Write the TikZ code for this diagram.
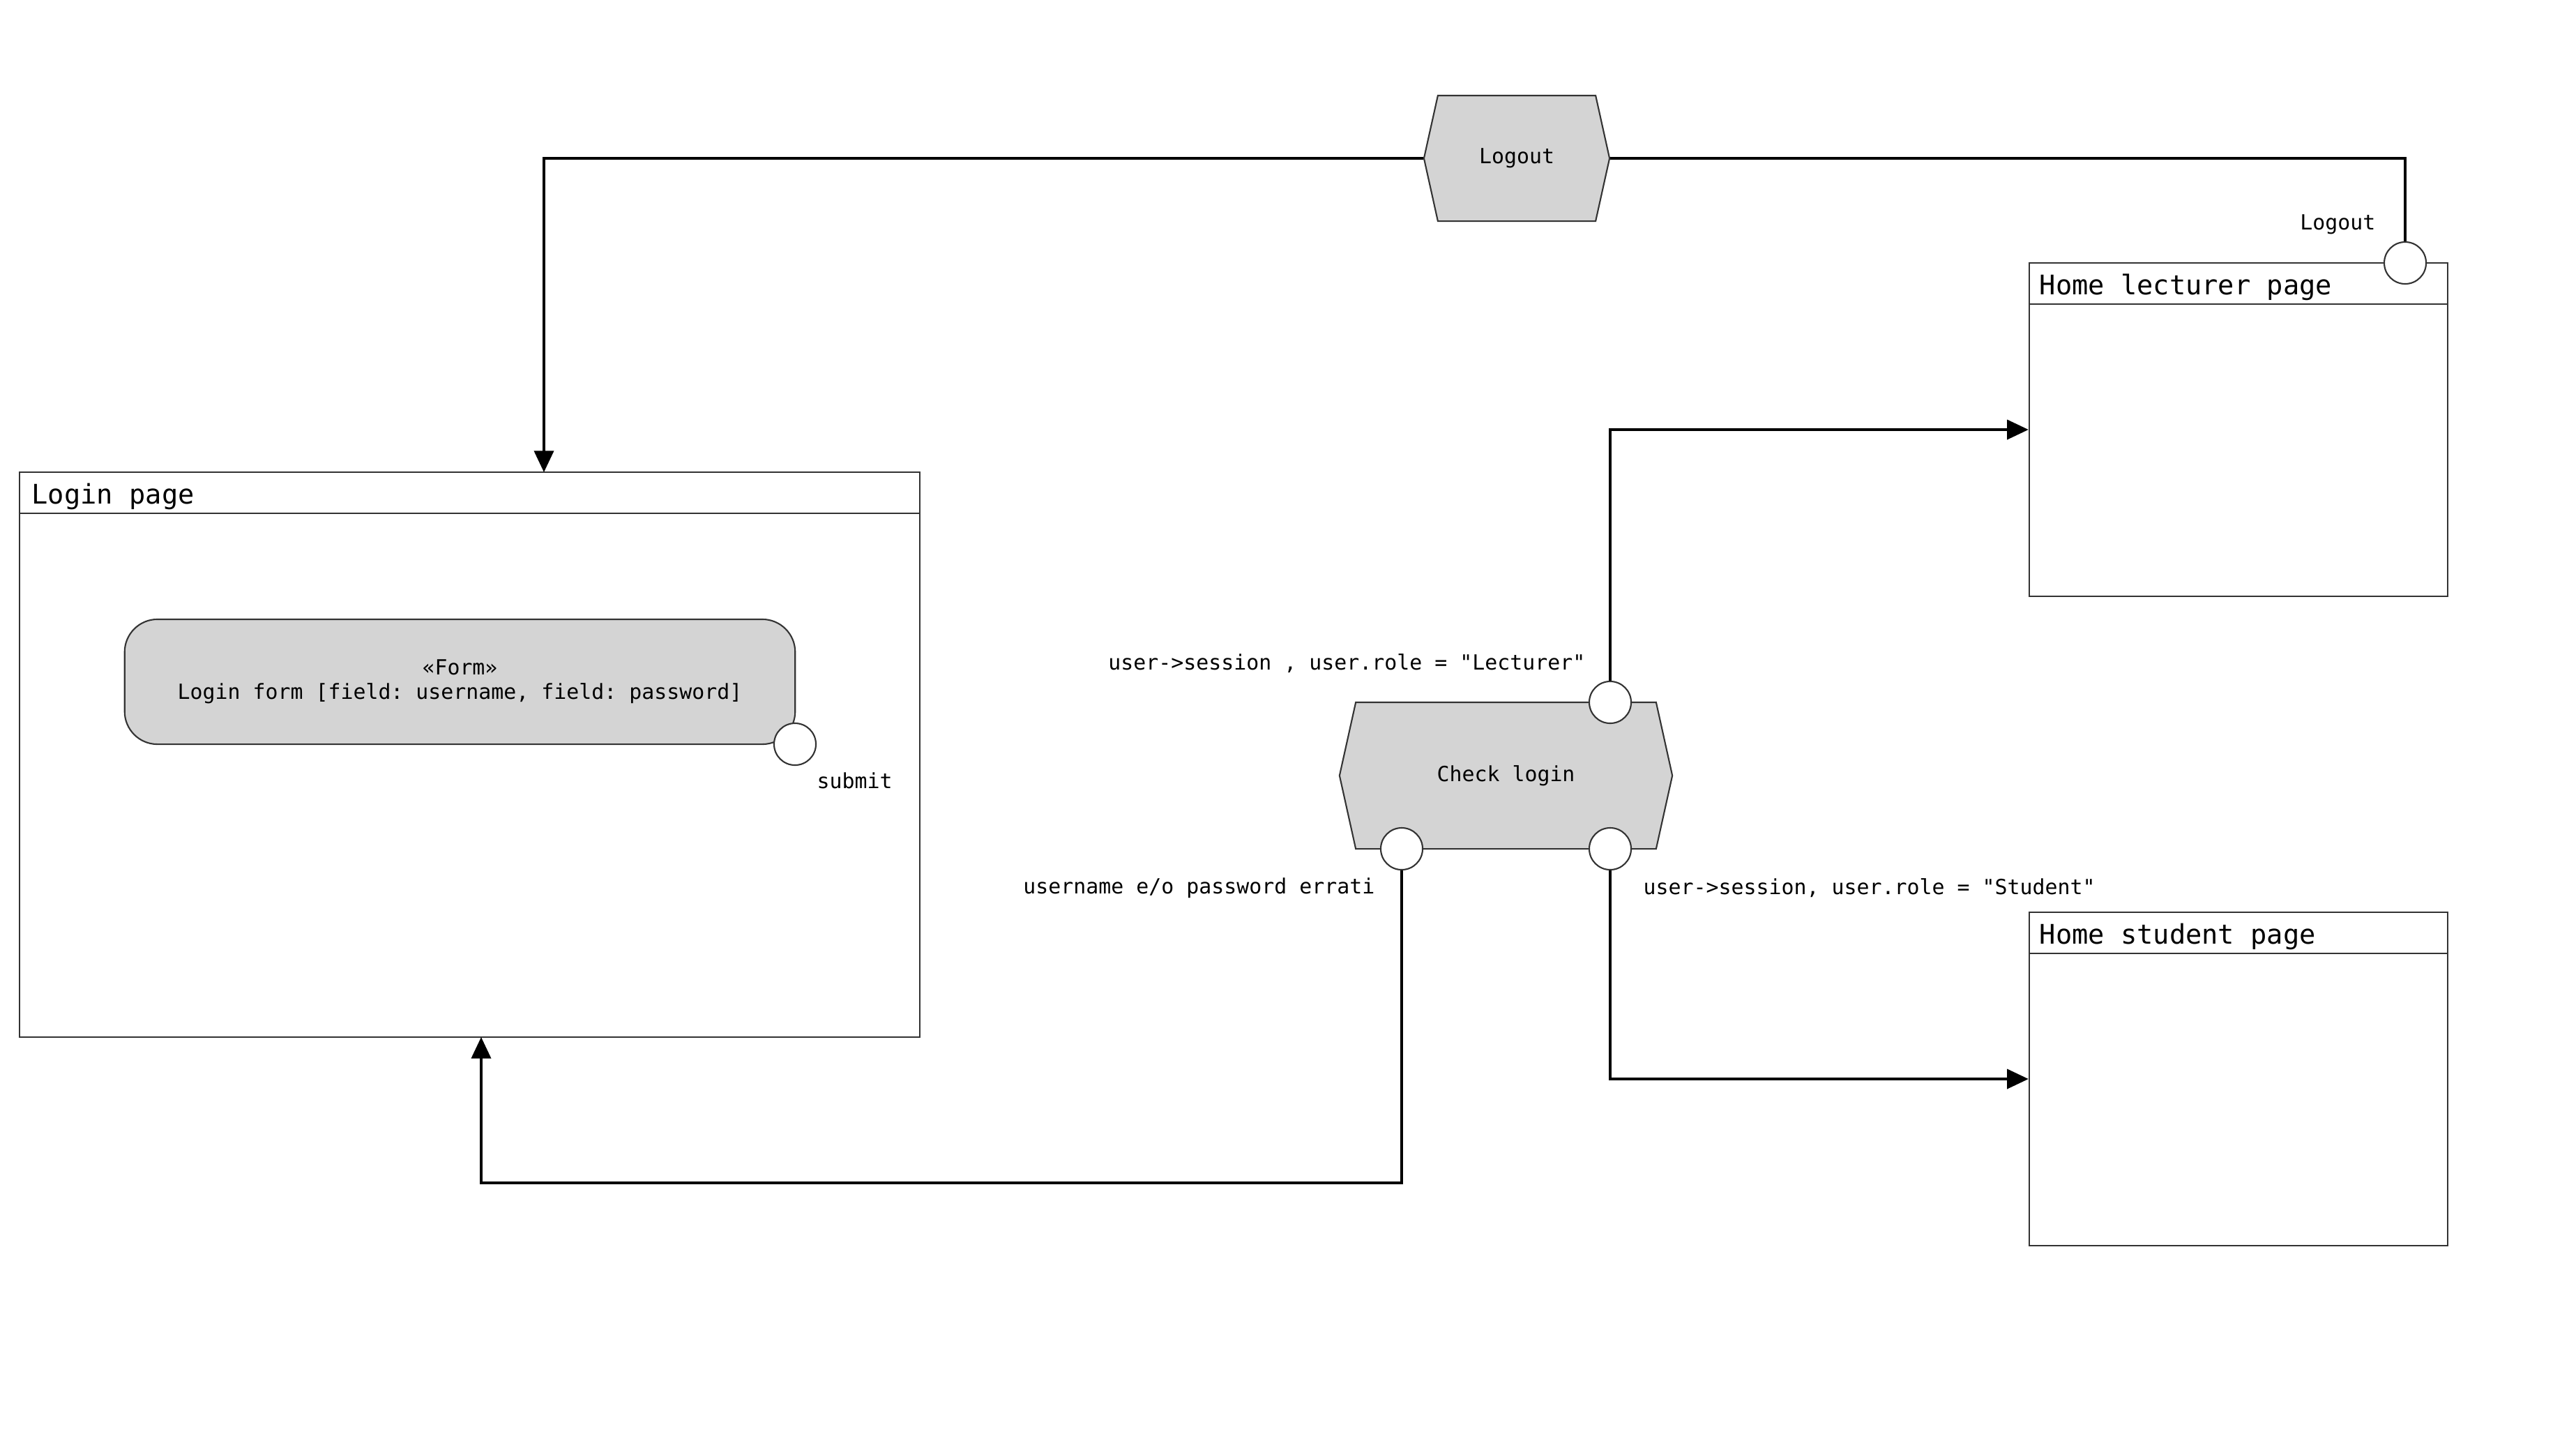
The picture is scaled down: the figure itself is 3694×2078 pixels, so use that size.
\documentclass[tikz,border=0pt]{standalone}
\usepackage{fontspec}
\setmonofont{DejaVu Sans Mono}
\usetikzlibrary{arrows.meta,shapes.symbols}
\begin{document}
\begin{tikzpicture}[x=0.01cm,y=-0.01cm]
			\tikzstyle{Page} = [rectangle, draw=black!80, line width=0.6pt, inner sep=0pt]
			\tikzstyle{Title} = [anchor=west, inner sep=0pt, font=\ttfamily\fontsize{11}{13}\selectfont]
			\tikzstyle{Action} = [signal, signal to=west and east, signal pointer angle=155, draw=black!80, fill=black!17, line width=0.6pt, inner sep=0pt, font=\ttfamily\fontsize{8.5}{10}\selectfont]
			\tikzstyle{Port} = [circle, draw=black!80, fill=white, line width=0.6pt, minimum size=0.6cm, inner sep=0pt]
			\tikzstyle{Label} = [inner sep=0pt, font=\ttfamily\fontsize{8.5}{10}\selectfont]
			\tikzstyle{Flow} = [line width=0.9pt, -{Triangle[length=8.7pt,width=8pt]}]
			\useasboundingbox (0,0) rectangle (3694,2078);
			% pages
			\node (login) at (673.5,1082) [Page, minimum width=12.91cm, minimum height=8.1cm] {};
			\node (lecturer) at (3210,616) [Page, minimum width=6cm, minimum height=4.78cm] {};
			\node (student) at (3210,1547) [Page, minimum width=6cm, minimum height=4.78cm] {};
			\draw [draw=black!80, line width=0.6pt] ([yshift=-0.6cm]login.north west) to ([yshift=-0.6cm]login.north east);
			\draw [draw=black!80, line width=0.6pt] ([yshift=-0.6cm]lecturer.north west) to ([yshift=-0.6cm]lecturer.north east);
			\draw [draw=black!80, line width=0.6pt] ([yshift=-0.6cm]student.north west) to ([yshift=-0.6cm]student.north east);
			\node (loginTitle) at (45,712) [Title] {Login page};
			\node (lecturerTitle) at (2924,412) [Title] {Home lecturer page};
			\node (studentTitle) at (2924,1343) [Title] {Home student page};
			% form
			\node (form) at (659.5,977.5) [rectangle, rounded corners=0.47cm, draw=black!80, fill=black!17, line width=0.6pt, minimum width=9.61cm, minimum height=1.79cm, align=center, font=\ttfamily\fontsize{8.5}{10}\selectfont] {«Form»\\Login form [field: username, field: password]};
			\node (submit) at (1140,1067) [Port] {};
			\node (submitLabel) at (1171,1119) [Label, anchor=west] {submit};
			% actions
			\node (logout) at (2175,227) [Action, minimum width=2.66cm, minimum height=1.8cm] {Logout};
			\node (check) at (2159.5,1112) [Action, minimum width=4.77cm, minimum height=2.1cm] {Check login};
			\node (lecturerOut) at (3449,377) [Port] {};
			\node (checkLecturer) at (2309,1007) [Port] {};
			\node (checkError) at (2010,1217) [Port] {};
			\node (checkStudent) at (2309,1217) [Port] {};
			\node (outLabel) at (3407,322) [Label, anchor=east] {Logout};
			\node (lecturerLabel) at (2274,951) [Label, anchor=east] {user->session , user.role = "Lecturer"};
			\node (errorLabel) at (1972,1273) [Label, anchor=east] {username e/o password errati};
			\node (studentLabel) at (2356,1273) [Label, anchor=west] {user->session, user.role = "Student"};
			\coordinate (loginIn) at (780,677);
			\coordinate (loginBack) at (690,1487);
			\coordinate (errorTurn) at (690,1696);
			% flows
			\draw [line width=0.9pt] (lecturerOut.north) |- (logout.east);
			\draw [Flow] (logout.west) -| (loginIn);
			\draw [Flow] (checkLecturer.north) |- (lecturer.west);
			\draw [Flow] (checkStudent.south) |- (student.west);
			\draw [Flow] (checkError.south) |- (errorTurn) to (loginBack);
		\end{tikzpicture}
\end{document}
